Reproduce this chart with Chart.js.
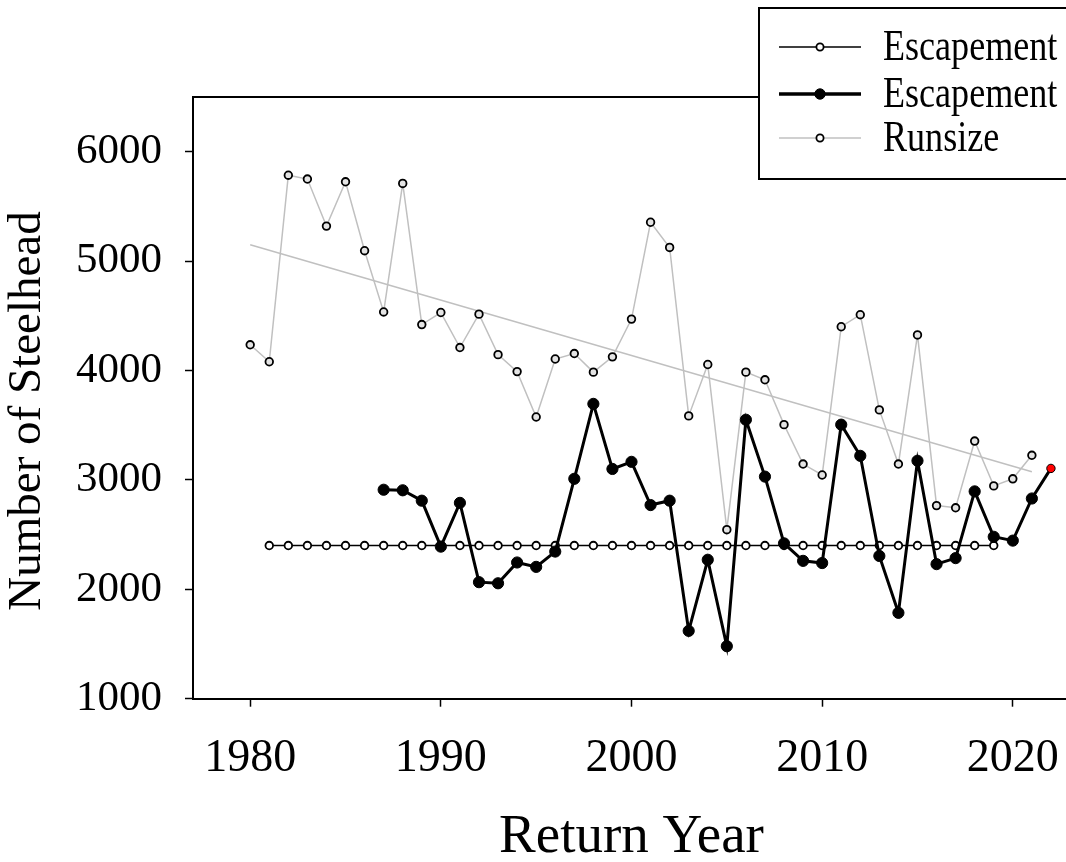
<!DOCTYPE html>
<html>
<head>
<meta charset="utf-8">
<script src="https://cdn.jsdelivr.net/npm/chart.js@4.4.1/dist/chart.umd.min.js"></script>
<style>
html,body{margin:0;padding:0;overflow:hidden;background:#fff;width:1066px;height:862px}
#wrap{position:absolute;left:0;top:0;width:1080px;height:862px}
</style>
</head>
<body>
<div id="wrap"><canvas id="c" width="1080" height="862"></canvas></div>
<script>
// ---- data ----
const runsizeYears = [1980,1981,1982,1983,1984,1985,1986,1987,1988,1989,1990,1991,1992,1993,1994,1995,1996,1997,1998,1999,2000,2001,2002,2003,2004,2005,2006,2007,2008,2009,2010,2011,2012,2013,2014,2015,2016,2017,2018,2019,2020,2021];
const runsizeValues = [4235,4080,5785,5750,5320,5725,5095,4535,5710,4420,4530,4210,4515,4145,3990,3575,4105,4155,3985,4125,4470,5355,5125,3585,4055,2545,3985,3915,3505,3145,3045,4400,4510,3640,3145,4325,2765,2745,3355,2945,3010,3225];

const escapementYears = [1987,1988,1989,1990,1991,1992,1993,1994,1995,1996,1997,1998,1999,2000,2001,2002,2003,2004,2005,2006,2007,2008,2009,2010,2011,2012,2013,2014,2015,2016,2017,2018,2019,2020,2021,2022];
const escapementValues = [2910,2905,2810,2390,2790,2065,2055,2245,2205,2345,3010,3695,3100,3165,2770,2810,1620,2270,1480,3550,3030,2420,2260,2240,3505,3220,2305,1785,3175,2230,2285,2895,2480,2445,2830,3105];
const provisionalYears = [2022];

const goalYears = [1981,1982,1983,1984,1985,1986,1987,1988,1989,1990,1991,1992,1993,1994,1995,1996,1997,1998,1999,2000,2001,2002,2003,2004,2005,2006,2007,2008,2009,2010,2011,2012,2013,2014,2015,2016,2017,2018,2019];
const goalValues = [2400,2400,2400,2400,2400,2400,2400,2400,2400,2400,2400,2400,2400,2400,2400,2400,2400,2400,2400,2400,2400,2400,2400,2400,2400,2400,2400,2400,2400,2400,2400,2400,2400,2400,2400,2400,2400,2400,2400];

const trendYears = [1980, 2021];
const trendValues = [5150, 3075];

const xTickValues = [1980,1990,2000,2010,2020];
const yTickValues = [1000,2000,3000,4000,5000,6000];
const legendLabels = ['Escapement','Escapement','Runsize'];

const xTitle = 'Return Year';
const yTitle = 'Number of Steelhead';

// ---- helpers ----
const pts = (xs, ys) => xs.map((x, i) => ({x: x, y: ys[i]}));
const SERIF = "'Liberation Serif', 'Times New Roman', serif";
const isProv = (ctx) => ctx.raw && provisionalYears.includes(ctx.raw.x);

const frameAndLegend = {
  id: 'frameAndLegend',
  beforeDatasetsDraw(chart) {
    const {ctx, chartArea: a} = chart;
    ctx.save();
    ctx.strokeStyle = '#000';
    ctx.lineWidth = 2;
    ctx.beginPath();
    ctx.moveTo(a.left, a.top);
    ctx.lineTo(a.right, a.top);
    ctx.lineTo(a.right, a.bottom);
    ctx.stroke();
    // y axis title
    ctx.save();
    ctx.translate(28, 411);
    ctx.rotate(-Math.PI / 2);
    ctx.font = '47px ' + SERIF;
    ctx.fillStyle = '#000';
    ctx.textAlign = 'center';
    ctx.textBaseline = 'middle';
    ctx.fillText(yTitle, 0, 0);
    ctx.restore();
    ctx.restore();
  },
  afterDraw(chart) {
    const ctx = chart.ctx;
    ctx.save();
    ctx.fillStyle = '#fff';
    ctx.fillRect(759, 8, 340, 171);
    ctx.strokeStyle = '#000';
    ctx.lineWidth = 2;
    ctx.strokeRect(759, 8, 340, 171);
    const rows = [47, 94, 138];
    const styles = [
      {line:'#000', lw:1.5, r:3.6, fill:'#fff', bw:1.8},
      {line:'#000', lw:3.5, r:5.2, fill:'#000', bw:1},
      {line:'#c0c0c0', lw:1.5, r:3.6, fill:'#fff', bw:1.8}
    ];
    legendLabels.forEach((lab, i) => {
      const y = rows[i], s = styles[i];
      ctx.strokeStyle = s.line;
      ctx.lineWidth = s.lw;
      ctx.beginPath();
      ctx.moveTo(779, y); ctx.lineTo(861, y);
      ctx.stroke();
      ctx.beginPath();
      ctx.arc(820, y, s.r, 0, Math.PI * 2);
      ctx.fillStyle = s.fill;
      ctx.fill();
      ctx.lineWidth = s.bw;
      ctx.strokeStyle = '#000';
      ctx.stroke();
      ctx.save();
      ctx.translate(883, y + 13);
      ctx.scale(0.82, 1);
      ctx.font = '44px ' + SERIF;
      ctx.fillStyle = '#000';
      ctx.textBaseline = 'alphabetic';
      ctx.textAlign = 'left';
      ctx.fillText(lab, 0, 0);
      ctx.restore();
    });
    ctx.restore();
  }
};

new Chart(document.getElementById('c'), {
  type: 'line',
  data: {
    datasets: [
      {
        label: 'Escapement',
        data: pts(escapementYears, escapementValues),
        borderColor: '#000',
        borderWidth: 3,
        pointRadius: (c) => isProv(c) ? 4.2 : 5.6,
        pointBackgroundColor: (c) => isProv(c) ? '#ff0000' : '#000',
        pointBorderColor: '#000',
        pointBorderWidth: 1,
        tension: 0
      },
      {
        label: 'Escapement goal',
        data: pts(goalYears, goalValues),
        borderColor: '#000',
        borderWidth: 1.5,
        pointRadius: 3.8,
        pointBackgroundColor: '#fff',
        pointBorderColor: '#000',
        pointBorderWidth: 1.8,
        tension: 0
      },
      {
        label: 'Runsize',
        data: pts(runsizeYears, runsizeValues),
        borderColor: '#c0c0c0',
        borderWidth: 1.5,
        pointRadius: 3.8,
        pointBackgroundColor: '#e4e4e4',
        pointBorderColor: '#000',
        pointBorderWidth: 1.8,
        tension: 0
      },
      {
        label: 'Runsize trend',
        data: pts(trendYears, trendValues),
        borderColor: '#c0c0c0',
        borderWidth: 1.5,
        pointRadius: 0,
        tension: 0
      }
    ]
  },
  options: {
    responsive: false,
    devicePixelRatio: 1,
    animation: false,
    layout: {padding: {top: 97, left: 0, right: 10, bottom: 0}},
    plugins: {legend: {display: false}, tooltip: {enabled: false}},
    scales: {
      x: {
        type: 'linear',
        min: 1977,
        max: 2023,
        afterBuildTicks: (s) => { s.ticks = xTickValues.map(v => ({value: v})); },
        afterFit: (s) => { s.height = 163.3; s.paddingLeft = 0; s.paddingRight = 0; },
        grid: {drawOnChartArea: false, drawTicks: true, tickLength: 8, tickColor: '#000', tickWidth: 1.5},
        border: {color: '#000', width: 2},
        ticks: {
          color: '#000',
          font: {family: SERIF, size: 46, lineHeight: 1},
          padding: 29,
          maxRotation: 0,
          callback: (v) => String(v)
        },
        title: {
          display: true,
          text: xTitle,
          color: '#000',
          font: {family: SERIF, size: 55, lineHeight: 0.9},
          padding: {top: 0, bottom: 0}
        }
      },
      y: {
        min: 1000,
        max: 6500,
        afterBuildTicks: (s) => { s.ticks = yTickValues.map(v => ({value: v})); },
        afterFit: (s) => { s.width = 193; },
        grid: {drawOnChartArea: false, drawTicks: true, tickLength: 8, tickColor: '#000', tickWidth: 1.5},
        border: {color: '#000', width: 2},
        ticks: {
          color: '#000',
          font: {family: SERIF, size: 43, lineHeight: 1},
          padding: 23,
          callback: (v) => String(v)
        },
        title: {display: false}
      }
    }
  },
  plugins: [frameAndLegend]
});
</script>
</body>
</html>
